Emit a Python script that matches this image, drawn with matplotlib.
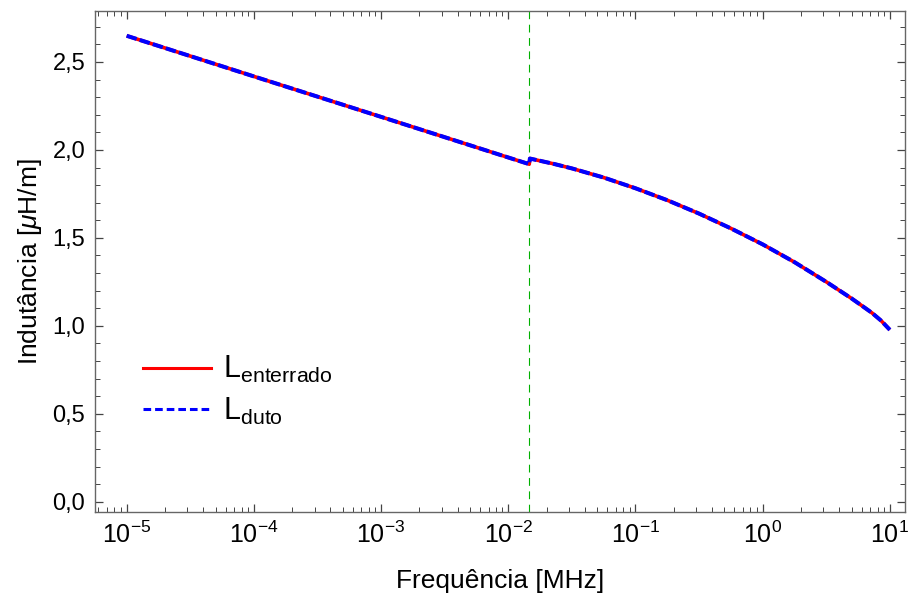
import matplotlib
matplotlib.use("Agg")
import matplotlib.pyplot as plt
from matplotlib.lines import Line2D
from matplotlib.ticker import FuncFormatter, FixedLocator, LogLocator, MultipleLocator, NullFormatter

plt.rcParams['font.family'] = ['Liberation Sans', 'DejaVu Sans']
plt.rcParams['mathtext.fontset'] = 'custom'
plt.rcParams['mathtext.rm'] = 'Liberation Sans'
plt.rcParams['mathtext.it'] = 'Liberation Sans:italic'
plt.rcParams['mathtext.bf'] = 'Liberation Sans:bold'
plt.rcParams['mathtext.default'] = 'regular'

# frequency in MHz, inductance in uH/m
freq = [1e-5, 1e-4, 1e-3, 1e-2, 0.01462, 0.01479, 0.02239, 0.0316, 0.0562, 0.1, 0.178,
        0.316, 0.562, 1.0, 1.778, 3.162, 5.012, 6.31, 7.244, 8.511, 10.0]
L_enterrado = [2.649, 2.418, 2.188, 1.957, 1.919, 1.951, 1.922, 1.895, 1.843, 1.782, 1.714,
               1.638, 1.554, 1.463, 1.362, 1.250, 1.155, 1.104, 1.073, 1.030, 0.977]
L_duto = [2.649, 2.418, 2.188, 1.957, 1.919, 1.951, 1.922, 1.895, 1.843, 1.782, 1.714,
          1.638, 1.554, 1.463, 1.362, 1.250, 1.155, 1.104, 1.073, 1.030, 0.977]
f_transicao = 0.01462
x_ticks = [1e-5, 1e-4, 1e-3, 1e-2, 1e-1, 1e0, 1e1]
x_ticklabels = ['$10^{-5}$', '$10^{-4}$', '$10^{-3}$', '$10^{-2}$', '$10^{-1}$', '$10^{0}$', '$10^{1}$']

fig = plt.figure(figsize=(9.09, 6.03), dpi=100)
ax = fig.add_axes([0.1045, 0.1514, 0.8911, 0.8304])

ax.plot(freq, L_enterrado, color='red', lw=2.6, solid_capstyle='butt', zorder=3)
ax.plot(freq, L_duto, color='blue', lw=2.9, linestyle=(0, (2.6, 0.8)), zorder=4)
ax.axvline(f_transicao, color='#00b000', lw=0.8, linestyle=(0, (7, 5)), zorder=2)

ax.set_xscale('log')
ax.set_xlim(10 ** -5.249, 10 ** 1.119)
ax.set_ylim(-0.057, 2.79)

ax.xaxis.set_major_locator(FixedLocator(x_ticks))
ax.set_xticklabels(x_ticklabels)
ax.xaxis.set_minor_locator(LogLocator(base=10, subs=range(2, 10), numticks=20))
ax.xaxis.set_minor_formatter(NullFormatter())
ax.yaxis.set_major_locator(MultipleLocator(0.5))
ax.yaxis.set_minor_locator(MultipleLocator(0.1))
ax.yaxis.set_major_formatter(FuncFormatter(lambda v, p: f"{v:.1f}".replace('.', ',')))

for s in ax.spines.values():
    s.set_color('#666666')
    s.set_linewidth(1.0)
ax.tick_params(which='both', direction='in', top=True, right=True, color='#444444')
ax.tick_params(which='major', length=6, width=0.9, labelsize=17, pad=7)
ax.tick_params(axis='x', which='major', labelsize=18)
ax.tick_params(which='minor', length=3.5, width=0.7)

ax.set_xlabel('Frequência [MHz]', fontsize=19, labelpad=15)
ax.set_ylabel(r'Indutância [$\mathit{\mu}$H/m]', fontsize=19, labelpad=6)

handles = [Line2D([], [], color='red', lw=2.2),
           Line2D([], [], color='blue', lw=2.2, linestyle=(0, (2.5, 1.3)))]
labels = [r'L$_{\mathrm{enterrado}}$', r'L$_{\mathrm{duto}}$']
ax.legend(handles, labels, loc='upper left', bbox_to_anchor=(0.041, 0.345),
          frameon=False, fontsize=22, handlelength=2.2, handletextpad=0.4,
          labelspacing=0.35, borderpad=0)

fig.savefig('out.png', dpi=100)
